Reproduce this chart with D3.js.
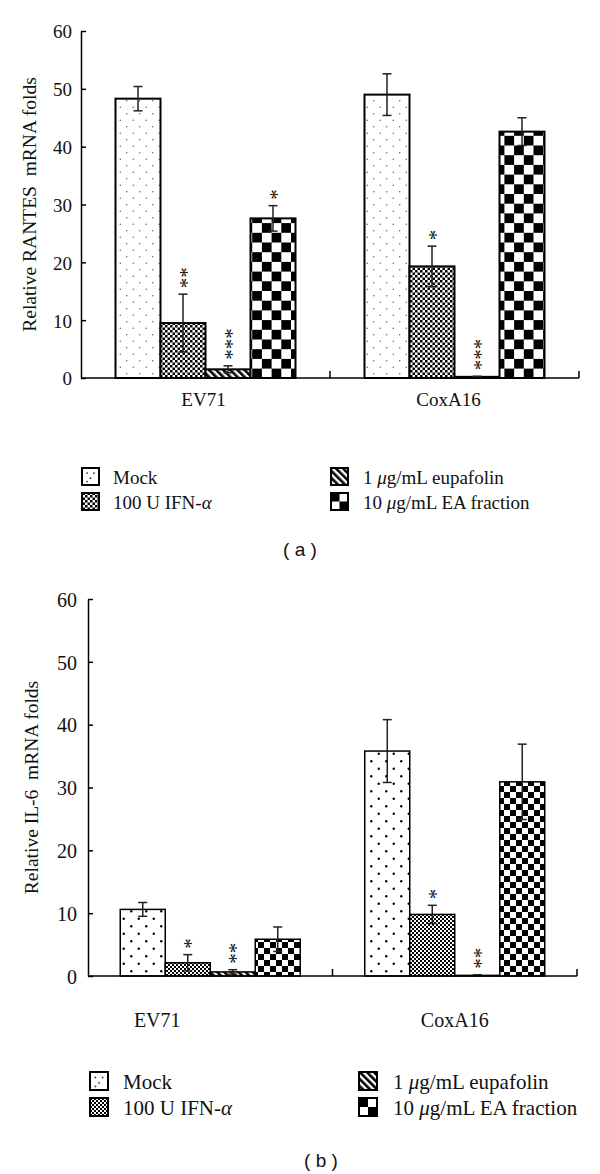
<!DOCTYPE html>
<html>
<head>
<meta charset="utf-8">
<script src="https://cdn.jsdelivr.net/npm/d3@7"></script>
<style>
  body { margin: 0; background: #fff; }
  svg { display: block; }
  text { fill: #111; }
</style>
</head>
<body>
<div id="chart"></div>
<script>
// groups on the x axis and treatments in each group
const groups = ["EV71", "CoxA16"];
const treatments = ["Mock", "IFN", "eupafolin", "EA"];
const yTicks = [0, 10, 20, 30, 40, 50, 60];

// (a) RANTES
const rantesMean = [[48.3, 9.5, 1.5, 27.6], [49.0, 19.3, 0.2, 42.6]];
const rantesErr = [[2.1, 5.0, 0.6, 2.2], [3.6, 3.5, 0.1, 2.4]];
const rantesStars = [[0, 2, 3, 1], [0, 1, 3, 0]];

// (b) IL-6
const il6Mean = [[10.6, 2.1, 0.65, 5.85], [35.8, 9.8, 0.1, 30.9]];
const il6Err = [[1.1, 1.3, 0.35, 1.95], [5.0, 1.45, 0.1, 6.0]];
const il6Stars = [[0, 1, 2, 0], [0, 1, 2, 0]];

const width = 600, height = 1174;
const serif = "'Liberation Serif', 'DejaVu Serif', serif";

const svg = d3.select("#chart").append("svg")
    .attr("width", width)
    .attr("height", height);

const defs = svg.append("defs");

// fill patterns, one set per panel (the dots and checks are a bit bigger in b)
function makePatterns(id, opt) {
    // sparse dots
    const dots = defs.append("pattern")
        .attr("id", "dots-" + id)
        .attr("patternUnits", "userSpaceOnUse")
        .attr("width", opt.dot).attr("height", opt.dot);
    dots.append("rect").attr("width", opt.dot).attr("height", opt.dot).attr("fill", "#fff");
    dots.append("circle").attr("cx", opt.dot / 4).attr("cy", opt.dot / 4).attr("r", opt.dotR).attr("fill", opt.dotColor);
    dots.append("circle").attr("cx", opt.dot * 3 / 4).attr("cy", opt.dot * 3 / 4).attr("r", opt.dotR).attr("fill", opt.dotColor);

    // fine checks
    const fine = defs.append("pattern")
        .attr("id", "fine-" + id)
        .attr("patternUnits", "userSpaceOnUse")
        .attr("width", opt.fine * 2).attr("height", opt.fine * 2);
    fine.append("rect").attr("width", opt.fine * 2).attr("height", opt.fine * 2).attr("fill", "#fff");
    fine.append("rect").attr("width", opt.fine).attr("height", opt.fine).attr("fill", "#000");
    fine.append("rect").attr("x", opt.fine).attr("y", opt.fine).attr("width", opt.fine).attr("height", opt.fine).attr("fill", "#000");

    // diagonal stripes
    const stripes = defs.append("pattern")
        .attr("id", "stripes-" + id)
        .attr("patternUnits", "userSpaceOnUse")
        .attr("width", 5).attr("height", 5)
        .attr("patternTransform", "rotate(-45)");
    stripes.append("rect").attr("width", 5).attr("height", 5).attr("fill", "#fff");
    stripes.append("rect").attr("width", 2.6).attr("height", 5).attr("fill", "#000");

    // big checks
    const big = defs.append("pattern")
        .attr("id", "big-" + id)
        .attr("patternUnits", "userSpaceOnUse")
        .attr("x", opt.bigX)
        .attr("width", opt.big * 2).attr("height", opt.big * 2);
    big.append("rect").attr("width", opt.big * 2).attr("height", opt.big * 2).attr("fill", "#fff");
    big.append("rect").attr("width", opt.big).attr("height", opt.big).attr("fill", "#000");
    big.append("rect").attr("x", opt.big).attr("y", opt.big).attr("width", opt.big).attr("height", opt.big).attr("fill", "#000");
}

const fills = ["dots", "fine", "stripes", "big"];

function drawPanel(p) {
    makePatterns(p.id, p.pat);

    const y = d3.scaleLinear().domain([0, 60]).range([p.yBase, p.yTop]);
    const x = d3.scaleBand().domain(groups).range([p.x0, p.x1]);
    const xInner = d3.scaleBand().domain(treatments).range([-p.barW * 2, p.barW * 2]);

    const g = svg.append("g");

    // y axis, ticks pointing inwards
    const yAxis = g.append("g")
        .attr("transform", `translate(${p.x0},0)`)
        .call(d3.axisLeft(y).tickValues(yTicks).tickSize(-5).tickPadding(p.tickPad).tickSizeOuter(0));
    yAxis.select(".domain").attr("stroke", "#000").attr("stroke-width", 1.5);
    yAxis.selectAll(".tick line").attr("stroke", "#000").attr("stroke-width", 1.5);
    yAxis.selectAll(".tick text")
        .attr("font-family", serif)
        .attr("font-size", p.tickFont)
        .attr("fill", "#111")
        .attr("dy", "0.36em");

    // y label
    g.append("text")
        .attr("transform", `translate(${p.yLabelX},${(p.yTop + p.yBase) / 2 + p.yLabelShift}) rotate(-90)`)
        .attr("text-anchor", "middle")
        .attr("font-family", serif)
        .attr("font-size", p.yLabelFont)
        .style("white-space", "pre")
        .text(p.yLabel);

    // bars
    groups.forEach((grp, gi) => {
        const cx = x(grp) + x.bandwidth() / 2;
        treatments.forEach((t, ti) => {
            const v = p.means[gi][ti];
            const e = p.errs[gi][ti];
            const bx = cx + xInner(t);
            g.append("rect")
                .attr("x", bx)
                .attr("y", y(v))
                .attr("width", xInner.bandwidth())
                .attr("height", y(0) - y(v))
                .attr("fill", `url(#${fills[ti]}-${p.id})`)
                .attr("stroke", "#000")
                .attr("stroke-width", p.barStroke);

            // error bar
            const ex = bx + xInner.bandwidth() / 2;
            const eb = g.append("g").attr("stroke", "#222").attr("stroke-width", 1.5);
            eb.append("line").attr("x1", ex).attr("x2", ex).attr("y1", y(v + e)).attr("y2", y(Math.max(0, v - e)));
            eb.append("line").attr("x1", ex - 4.5).attr("x2", ex + 4.5).attr("y1", y(v + e)).attr("y2", y(v + e));
            eb.append("line").attr("x1", ex - 4.5).attr("x2", ex + 4.5).attr("y1", y(Math.max(0, v - e))).attr("y2", y(Math.max(0, v - e)));

            // significance stars: one run of asterisks turned on its side
            const n = p.stars[gi][ti];
            if (n > 0) {
                const by = y(v + e) - p.starGap;
                g.append("text")
                    .attr("transform", `translate(${ex + p.starFont * 0.5},${by}) rotate(-90)`)
                    .attr("font-family", serif)
                    .attr("font-size", p.starFont)
                    .attr("fill", "#222")
                    .text("*".repeat(n));
            }
        });

        g.append("text")
            .attr("x", cx + p.labelShift[gi])
            .attr("y", p.labelY)
            .attr("text-anchor", "middle")
            .attr("font-family", serif)
            .attr("font-size", p.labelFont)
            .text(grp);
    });

    // x axis with small upward ticks at the group boundaries
    g.append("line")
        .attr("x1", p.x0).attr("x2", p.x1)
        .attr("y1", y(0)).attr("y2", y(0))
        .attr("stroke", "#000").attr("stroke-width", 1.5);
    groups.forEach(grp => {
        const tx = x(grp) + x.bandwidth();
        g.append("line")
            .attr("x1", tx).attr("x2", tx)
            .attr("y1", y(0)).attr("y2", y(0) - 7)
            .attr("stroke", "#000").attr("stroke-width", 1.5);
    });

    // legend, two columns of two
    const L = p.legend;
    treatments.forEach((t, ti) => {
        const col = Math.floor(ti / 2), row = ti % 2;
        const sx = L.sx[col], tx = L.tx[col];
        const base = L.base[row];
        const sy = base - L.size + 1;
        const sw = g.append("g");
        if (ti === 3) {
            // 2x2 checks in the swatch
            const h = L.size / 2;
            sw.append("rect").attr("x", sx).attr("y", sy).attr("width", L.size).attr("height", L.size).attr("fill", "#fff");
            sw.append("rect").attr("x", sx).attr("y", sy).attr("width", h).attr("height", h).attr("fill", "#000");
            sw.append("rect").attr("x", sx + h).attr("y", sy + h).attr("width", h).attr("height", h).attr("fill", "#000");
        } else if (ti === 0) {
            sw.append("rect").attr("x", sx).attr("y", sy).attr("width", L.size).attr("height", L.size).attr("fill", "#fff");
            [[0.3, 0.3], [0.7, 0.3], [0.5, 0.6], [0.3, 0.8]].forEach(d => {
                sw.append("circle").attr("cx", sx + d[0] * L.size).attr("cy", sy + d[1] * L.size).attr("r", 0.9).attr("fill", "#333");
            });
        } else {
            sw.append("rect").attr("x", sx).attr("y", sy).attr("width", L.size).attr("height", L.size)
                .attr("fill", `url(#${fills[ti]}-${p.id})`);
        }
        sw.append("rect").attr("x", sx).attr("y", sy).attr("width", L.size).attr("height", L.size)
            .attr("fill", "none").attr("stroke", "#000").attr("stroke-width", 2);

        const txt = g.append("text")
            .attr("x", tx).attr("y", base)
            .attr("font-family", serif)
            .attr("font-size", L.font);
        if (ti === 0) txt.text("Mock");
        if (ti === 1) {
            txt.append("tspan").text("100 U IFN-");
            txt.append("tspan").attr("font-style", "italic").text("α");
        }
        if (ti === 2) {
            txt.append("tspan").text("1 ");
            txt.append("tspan").attr("font-style", "italic").text("μ");
            txt.append("tspan").text("g/mL eupafolin");
        }
        if (ti === 3) {
            txt.append("tspan").text("10 ");
            txt.append("tspan").attr("font-style", "italic").text("μ");
            txt.append("tspan").text("g/mL EA fraction");
        }
    });

    // panel caption
    g.append("text")
        .attr("x", p.capX).attr("y", p.capY)
        .attr("text-anchor", "middle")
        .attr("font-family", "'Liberation Sans', Arial, sans-serif")
        .attr("font-size", 19)
        .style("white-space", "pre")
        .text(`( ${p.id} )`);
}

drawPanel({
    id: "a",
    means: rantesMean, errs: rantesErr, stars: rantesStars,
    yLabel: "Relative RANTES  mRNA folds",
    x0: 81, x1: 579, yTop: 31, yBase: 378, barW: 45, barStroke: 2,
    tickPad: 9, tickFont: 19,
    yLabelX: 36, yLabelShift: 0, yLabelFont: 19.5,
    labelY: 406, labelShift: [-2, -6], labelFont: 19,
    starGap: 6, starStep: 9, starFont: 21,
    pat: { dot: 13, dotR: 0.7, dotColor: "#555", fine: 2.5, big: 9.7, bigX: 0 },
    legend: { sx: [82, 331], tx: [113, 363], base: [484, 509], size: 17, font: 19 },
    capX: 300, capY: 556
});

drawPanel({
    id: "b",
    means: il6Mean, errs: il6Err, stars: il6Stars,
    yLabel: "Relative IL-6  mRNA folds",
    x0: 88, x1: 577, yTop: 599, yBase: 976, barW: 45, barStroke: 1.5,
    tickPad: 11, tickFont: 20,
    yLabelX: 38, yLabelShift: 0, yLabelFont: 19.5,
    labelY: 1027, labelShift: [-53, 0], labelFont: 20,
    starGap: 6, starStep: 8.5, starFont: 21,
    pat: { dot: 15, dotR: 1.2, dotColor: "#000", fine: 2, big: 6, bigX: 0 },
    legend: { sx: [90, 359], tx: [123, 393], base: [1089, 1115], size: 18, font: 21 },
    capX: 321, capY: 1167
});
</script>
</body>
</html>
